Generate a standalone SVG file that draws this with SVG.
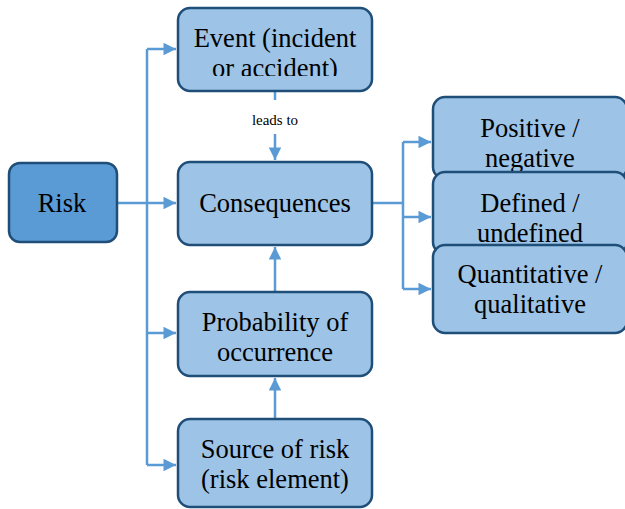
<svg xmlns="http://www.w3.org/2000/svg" width="625" height="509" viewBox="0 0 625 509">
<style>
.box{fill:#9dc3e6;stroke:#1f4e79;stroke-width:2.5}
.risk{fill:#5b9bd5;stroke:#1f4e79;stroke-width:2.5}
.t{font-family:'Liberation Serif','Times New Roman',serif;font-size:26.5px;fill:#000;text-anchor:middle}
.s{font-family:'Liberation Serif','Times New Roman',serif;font-size:15px;fill:#000;text-anchor:middle}
.c{fill:none;stroke:#5b9bd5;stroke-width:2.5}
</style>
<defs>
<marker id="ah" viewBox="0 0 10 10" refX="10" refY="5" markerWidth="6" markerHeight="5" markerUnits="strokeWidth" orient="auto">
<path d="M0,0 L10,5 L0,10 z" fill="#5b9bd5"/>
</marker>
<clipPath id="clipEvent"><rect x="178" y="8" width="194" height="68"/></clipPath>
</defs>
<g id="connectors">
<path class="c" d="M117,203 H176" marker-end="url(#ah)"/>
<path class="c" d="M147,49 V465"/>
<path class="c" d="M147,49 H176" marker-end="url(#ah)"/>
<path class="c" d="M147,333 H176" marker-end="url(#ah)"/>
<path class="c" d="M147,465 H176" marker-end="url(#ah)"/>
<path class="c" d="M275,91 V100"/>
<path class="c" d="M275,134 V160" marker-end="url(#ah)"/>
<path class="c" d="M275,292 V247" marker-end="url(#ah)"/>
<path class="c" d="M275,419 V378" marker-end="url(#ah)"/>
<path class="c" d="M372,203 H403"/>
<path class="c" d="M403,142 V289"/>
<path class="c" d="M403,142 H431" marker-end="url(#ah)"/>
<path class="c" d="M403,217 H431" marker-end="url(#ah)"/>
<path class="c" d="M403,289 H431" marker-end="url(#ah)"/>
<text class="s" x="275" y="125">leads to</text>
</g>
<g id="risk">
<rect class="risk" x="9" y="163" width="108" height="79" rx="11"/>
<text class="t" x="62" y="212">Risk</text>
</g>
<g id="event">
<rect class="box" x="178" y="8" width="194" height="83" rx="12"/>
<g clip-path="url(#clipEvent)">
<text class="t" x="275" y="47">Event (incident</text>
<text class="t" x="275" y="77">or accident)</text>
</g>
</g>
<g id="consequences">
<rect class="box" x="178" y="162" width="194" height="83" rx="12"/>
<text class="t" x="275" y="212">Consequences</text>
</g>
<g id="probability">
<rect class="box" x="178" y="292" width="194" height="84" rx="12"/>
<text class="t" x="275" y="331">Probability of</text>
<text class="t" x="275" y="361">occurrence</text>
</g>
<g id="source">
<rect class="box" x="178" y="419" width="194" height="88" rx="12"/>
<text class="t" x="275" y="458">Source of risk</text>
<text class="t" x="275" y="488">(risk element)</text>
</g>
<g id="positive">
<rect class="box" x="433" y="97" width="194" height="82" rx="12"/>
<text class="t" x="530" y="137">Positive /</text>
<text class="t" x="530" y="167">negative</text>
</g>
<g id="defined">
<rect class="box" x="433" y="172" width="194" height="82" rx="12"/>
<text class="t" x="530" y="212">Defined /</text>
<text class="t" x="530" y="242">undefined</text>
</g>
<g id="quantitative">
<rect class="box" x="433" y="245" width="194" height="88" rx="12"/>
<text class="t" x="530" y="283">Quantitative /</text>
<text class="t" x="530" y="313">qualitative</text>
</g>
</svg>
